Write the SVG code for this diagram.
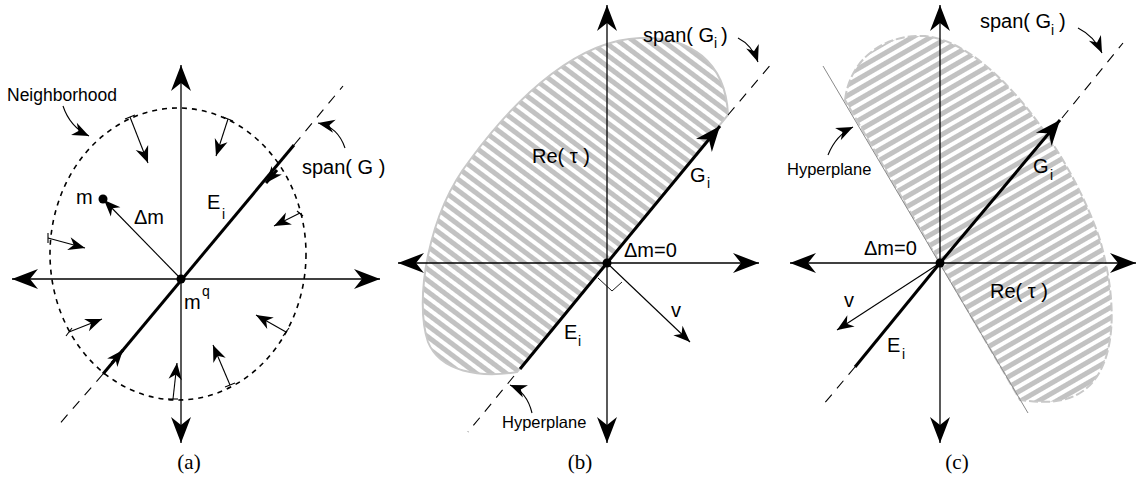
<svg xmlns="http://www.w3.org/2000/svg" width="1138" height="491" viewBox="0 0 1138 491">
<style>
.ax{stroke:#000;stroke-width:1.3;fill:none;marker-end:url(#ah)}
.thin{stroke:#000;stroke-width:1.1;fill:none;marker-end:url(#as)}
.thick{stroke:#000;stroke-width:3;fill:none}
.dash{stroke:#000;stroke-width:1.1;fill:none;stroke-dasharray:10 8}
.lbl{font-family:"Liberation Sans",Arial,sans-serif;font-size:20px;fill:#000}
.sub{font-family:"Liberation Sans",Arial,sans-serif;font-size:14px;fill:#000}
.sm{font-family:"Liberation Sans",Arial,sans-serif;font-size:16.5px;fill:#000}
.cap{font-family:"Liberation Serif","Times New Roman",serif;font-size:21px;fill:#000;text-anchor:middle}
</style>
<defs>
<marker id="ah" markerUnits="userSpaceOnUse" markerWidth="30" markerHeight="30" viewBox="-14 -7 15 14" refX="0" refY="0" orient="auto" overflow="visible"><path d="M0,0 L-13,-5 L-9,0 L-13,5 Z" fill="#000"/></marker>
<marker id="as" markerUnits="userSpaceOnUse" markerWidth="20" markerHeight="20" viewBox="-11 -5 12 10" refX="0" refY="0" orient="auto" overflow="visible"><path d="M0,0 L-10,-4 L-7,0 L-10,4 Z" fill="#000"/></marker>
<marker id="ag" markerUnits="userSpaceOnUse" markerWidth="30" markerHeight="30" viewBox="-18 -9 19 18" refX="0" refY="0" orient="auto" overflow="visible"><path d="M0,0 L-16,-6.5 L-11,0 L-16,6.5 Z" fill="#000"/></marker>
<pattern id="hb" patternUnits="userSpaceOnUse" width="9" height="9" patternTransform="rotate(37)"><rect width="9" height="5" fill="#c2c2c2"/></pattern>
<pattern id="hc" patternUnits="userSpaceOnUse" width="9" height="9" patternTransform="rotate(-30)"><rect width="9" height="5" fill="#c2c2c2"/></pattern>
</defs>

<!-- Panel (a) -->
<g id="panel-a">
  <g id="a-neighborhood">
    <ellipse cx="178" cy="254" rx="128" ry="146" fill="none" stroke="#000" stroke-width="1.6" stroke-dasharray="5 5"/>
    <text class="sm" x="7" y="101" style="font-size:17.5px">Neighborhood</text>
  </g>
  <g id="a-axes">
    <line class="ax" x1="181" y1="279" x2="181" y2="65"/>
    <line class="ax" x1="181" y1="279" x2="181" y2="443"/>
    <line class="ax" x1="181" y1="279" x2="12" y2="279"/>
    <line class="ax" x1="181" y1="279" x2="380" y2="279"/>
  </g>
  <g id="a-span">
    <line class="dash" x1="294" y1="145" x2="343" y2="86"/>
    <line class="dash" x1="103" y1="374" x2="56" y2="428"/>
    <line class="thick" x1="103" y1="374" x2="294" y2="145"/>
    <text class="lbl" x="302" y="174">span( G )</text>
  </g>
  <g id="a-Ei"><text class="lbl" x="207" y="209">E</text><text class="sub" x="222" y="219">i</text></g>
  <g id="a-m">
    <circle cx="103" cy="199" r="4.5" fill="#000"/>
    <text class="lbl" x="76" y="204">m</text>
  </g>
  <g id="a-dm"><text class="lbl" x="134" y="224">Δm</text></g>
  <g id="a-mq">
    <circle cx="181" cy="279" r="4.5" fill="#000"/>
    <text class="lbl" x="184" y="309">m</text><text class="sub" x="202" y="296">q</text>
  </g>
  <text class="cap" x="189" y="469">(a)</text>
</g>

<!-- Panel (b) -->
<g id="panel-b">
  <g id="b-region">
    <path d="M517,372 C480,378 440,372 428,342 C414,300 428,214 470,160 C520,92 580,40 640,38 C690,36 726,62 728,115 Z" fill="url(#hb)" stroke="#c8c8c8" stroke-width="2"/>
    <text class="lbl" x="532" y="163">Re( τ )</text>
  </g>
  <g id="b-axes">
    <line class="ax" x1="607" y1="263" x2="607" y2="5"/>
    <line class="ax" x1="607" y1="263" x2="607" y2="443"/>
    <line class="ax" x1="607" y1="263" x2="398" y2="263"/>
    <line class="ax" x1="607" y1="263" x2="759" y2="263"/>
  </g>
  <g id="b-span">
    <line class="dash" x1="728" y1="115" x2="773" y2="62"/>
    <line class="dash" x1="514" y1="376" x2="468" y2="432"/>
    <text class="lbl" x="643" y="42">span( G</text><text class="sub" x="714" y="48">i</text><text class="lbl" x="721" y="42">)</text>
  </g>
  <g id="b-Gi">
    <line class="thick" x1="607" y1="263" x2="720" y2="126" style="marker-end:url(#ag)"/>
    <text class="lbl" x="690" y="182">G</text><text class="sub" x="707" y="188">i</text>
  </g>
  <g id="b-Ei">
    <line class="thick" x1="607" y1="263" x2="520" y2="369"/>
    <text class="lbl" x="564" y="339">E</text><text class="sub" x="578" y="346">i</text>
  </g>
  <g id="b-v">
    <line class="thin" x1="607" y1="263" x2="690" y2="342"/>
    <polyline points="598,278 612,291 622,282" fill="none" stroke="#000" stroke-width="0.9"/>
    <text class="lbl" x="671" y="317">v</text>
  </g>
  <g id="b-origin">
    <circle cx="607" cy="263" r="4.5" fill="#000"/>
    <text class="lbl" x="624" y="257">Δm=0</text>
  </g>
  <g id="b-hyper"><text class="sm" x="502" y="428">Hyperplane</text></g>
  <text class="cap" x="580" y="469">(b)</text>
</g>

<!-- Panel (c) -->
<g id="panel-c">
  <g id="c-region">
    <path d="M845,100 C850,58 885,34 925,36 C990,42 1070,150 1100,240 C1120,310 1115,372 1080,393 C1060,405 1038,402 1020,400 Z" fill="url(#hc)" stroke="#c8c8c8" stroke-width="2" stroke-dasharray="9 3"/>
    <line x1="823" y1="66" x2="1028" y2="413" stroke="#8a8a8a" stroke-width="1"/>
    <text class="lbl" x="990" y="298">Re( τ )</text>
  </g>
  <g id="c-axes">
    <line class="ax" x1="940" y1="263" x2="940" y2="5"/>
    <line class="ax" x1="940" y1="263" x2="940" y2="443"/>
    <line class="ax" x1="940" y1="263" x2="790" y2="263"/>
    <line class="ax" x1="940" y1="263" x2="1136" y2="263"/>
  </g>
  <g id="c-span">
    <line class="dash" x1="1062" y1="118" x2="1123" y2="43"/>
    <line class="dash" x1="855" y1="367" x2="823" y2="405"/>
    <text class="lbl" x="980" y="28">span( G</text><text class="sub" x="1051" y="35">i</text><text class="lbl" x="1059" y="28">)</text>
  </g>
  <g id="c-Gi">
    <line class="thick" x1="940" y1="263" x2="1060" y2="120" style="marker-end:url(#ag)"/>
    <text class="lbl" x="1033" y="173">G</text><text class="sub" x="1050" y="180">i</text>
  </g>
  <g id="c-Ei">
    <line class="thick" x1="940" y1="263" x2="855" y2="367"/>
    <text class="lbl" x="887" y="352">E</text><text class="sub" x="902" y="359">i</text>
  </g>
  <g id="c-v">
    <line class="thin" x1="940" y1="263" x2="837" y2="330"/>
    <text class="lbl" x="844" y="307">v</text>
  </g>
  <g id="c-origin">
    <circle cx="940" cy="263" r="4.5" fill="#000"/>
    <text class="lbl" x="864" y="255">Δm=0</text>
  </g>
  <g id="c-hyper"><text class="sm" x="787" y="175">Hyperplane</text></g>
  <text class="cap" x="957" y="469">(c)</text>
</g>

<!-- connectors -->
<g id="connectors">
  <path class="thin" d="M63,106 Q70,127 89,136"/>
  <path class="thin" d="M345,148 Q338,127 318,123"/>
  <line class="thin" x1="181" y1="279" x2="104" y2="200"/>
  <path class="thick" d="M277,170 L266,183" style="marker-end:url(#as)"/>
  <path class="thick" d="M112,363 L123,350" style="marker-end:url(#as)"/>
  <g stroke="#000" stroke-width="1.1">
    <line x1="125" y1="119" x2="135" y2="115"/>
    <line x1="223" y1="117" x2="233" y2="121"/>
    <line x1="297" y1="211" x2="303" y2="216"/>
    <line x1="48" y1="233" x2="48" y2="243"/>
    <line x1="66" y1="336" x2="72" y2="328"/>
    <line x1="168" y1="399" x2="178" y2="399"/>
    <line x1="225" y1="387" x2="235" y2="383"/>
    <line x1="283" y1="336" x2="289" y2="328"/>
  </g>
  <line class="thin" x1="130" y1="117" x2="148" y2="163"/>
  <line class="thin" x1="228" y1="119" x2="216" y2="156"/>
  <line class="thin" x1="300" y1="213" x2="274" y2="226"/>
  <line class="thin" x1="48" y1="238" x2="85" y2="248"/>
  <line class="thin" x1="69" y1="332" x2="102" y2="319"/>
  <line class="thin" x1="173" y1="399" x2="177" y2="363"/>
  <line class="thin" x1="230" y1="385" x2="213" y2="345"/>
  <line class="thin" x1="286" y1="332" x2="256" y2="315"/>
  <path class="thin" d="M738,38 Q752,45 758,62"/>
  <path class="thin" d="M532,413 Q527,392 510,385"/>
  <path class="thin" d="M1078,28 Q1094,36 1102,53"/>
  <path class="thin" d="M828,155 Q836,135 853,127"/>
</g>
</svg>
